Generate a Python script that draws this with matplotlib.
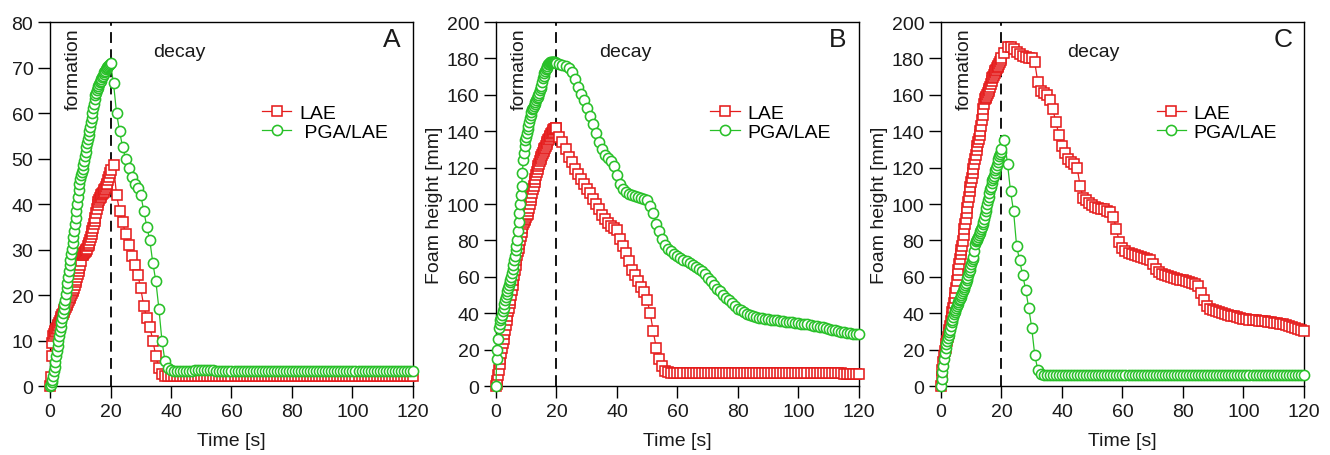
import numpy as np
import matplotlib
matplotlib.use("Agg")
import matplotlib.pyplot as plt

plt.rcParams['font.family'] = ['Liberation Sans', 'DejaVu Sans']

# time grid: fine sampling during formation, 1 s during decay
t_form = np.arange(0, 20.01, 0.25)
t_decay = np.arange(21, 121, 1)

# ---------------- panel A ----------------
a_lae_form = [
    0, 2, 6.5, 9.5,
    11, 11.4, 11.8, 12.1,
    12.5, 12.8, 13.1, 13.5,
    13.8, 14.2, 14.7, 15.1,
    15.5, 15.9, 16.3, 16.6,
    17, 17.4, 17.8, 18.1,
    18.5, 18.9, 19.3, 19.6,
    20, 20.4, 20.8, 21.1,
    21.5, 22.1, 22.8, 23.4,
    24, 24.6, 25.3, 25.9,
    26.5, 27.5, 28.7, 28.8,
    29, 29.2, 29.4, 29.6,
    29.8, 30.2, 30.7, 31.1,
    31.5, 32.1, 32.8, 33.4,
    34, 34.8, 35.5, 36.3,
    37, 38, 39, 39.8,
    40.5, 40.9, 41.3, 41.6,
    42, 42.2, 42.5, 42.7,
    43, 43.4, 43.7, 44.1,
    44.5, 45.2, 46, 46.8,
    47.5]
a_lae_decay = [
    48.5, 42, 38.5, 36, 33.5, 31, 28.5, 26.5, 24.5, 21.5,
    17.5, 15, 13, 10, 6.5, 4, 2.6, 2.3, 2.2, 2.2,
    2.2, 2.2, 2.1, 2.1, 2.2, 2.2, 2.2, 2.2, 2.1, 2.1,
    2.2, 2.2, 2.2, 2.1, 2.1, 2.2, 2.2, 2.2, 2.2, 2.2,
    2.2, 2.1, 2.1, 2.2, 2.2, 2.2, 2.2, 2.1, 2.1, 2.2,
    2.2, 2.2, 2.2, 2.2, 2.1, 2.1, 2.2, 2.2, 2.2, 2.2,
    2.2, 2.1, 2.1, 2.2, 2.2, 2.2, 2.2, 2.1, 2.1, 2.2,
    2.2, 2.2, 2.2, 2.2, 2.1, 2.1, 2.2, 2.2, 2.2, 2.2,
    2.2, 2.1, 2.1, 2.2, 2.2, 2.2, 2.2, 2.1, 2.1, 2.2,
    2.2, 2.2, 2.2, 2.2, 2.2, 2.2, 2.2, 2.2, 2.3, 2.3]
a_pga_form = [
    0, 0.3, 0.8, 1.4,
    2.2, 3.2, 4.2, 5.3,
    6.5, 7.6, 8.7, 9.9,
    11, 12, 13, 14,
    15, 16, 17, 18,
    19, 20.2, 21.5, 22.7,
    24, 25.2, 26.5, 27.7,
    29, 30.2, 31.5, 32.7,
    34, 35.5, 37, 38.5,
    40, 41.5, 43, 44.3,
    45.5, 46.3, 47, 47.8,
    48.5, 49.5, 50.5, 51.5,
    52.5, 53.4, 54.2, 55.1,
    56, 57, 58, 59,
    60, 61, 62, 63,
    64, 64.5, 65, 65.5,
    66, 66.4, 66.8, 67.1,
    67.5, 67.9, 68.2, 68.6,
    69, 69.3, 69.6, 69.9,
    70.2, 70.4, 70.6, 70.8,
    71]
a_pga_decay = [
    66.5, 60, 56, 52.5, 50, 48, 46, 44.5, 43.5, 42,
    38.5, 35, 32, 27, 23, 17, 10, 5.5, 4, 3.6,
    3.4, 3.3, 3.3, 3.3, 3.3, 3.4, 3.4, 3.5, 3.5, 3.5,
    3.6, 3.5, 3.5, 3.5, 3.4, 3.4, 3.3, 3.3, 3.3, 3.3,
    3.3, 3.3, 3.3, 3.4, 3.4, 3.3, 3.3, 3.3, 3.3, 3.3,
    3.3, 3.3, 3.4, 3.4, 3.3, 3.3, 3.3, 3.3, 3.3, 3.3,
    3.3, 3.3, 3.3, 3.3, 3.4, 3.4, 3.3, 3.3, 3.3, 3.3,
    3.3, 3.3, 3.3, 3.3, 3.3, 3.4, 3.4, 3.3, 3.3, 3.3,
    3.3, 3.3, 3.3, 3.3, 3.3, 3.3, 3.4, 3.4, 3.3, 3.3,
    3.3, 3.3, 3.3, 3.3, 3.3, 3.3, 3.3, 3.4, 3.4, 3.4]

# ---------------- panel B ----------------
b_lae_form = [
    0, 1, 3, 6,
    9, 12, 15, 18,
    21, 23.5, 26, 28.5,
    31, 33.5, 36, 38.5,
    41, 43, 45.5, 47.5,
    50, 52.5, 55.5, 58,
    61, 64, 66.5, 69,
    72, 74, 76, 78,
    80, 82.5, 84.5, 87,
    89, 90, 91, 92,
    93, 94, 94.5, 96,
    98, 100, 102, 104,
    106, 108, 110, 112,
    114, 116, 117.5, 119.5,
    121, 122.2, 123.5, 124.8,
    126, 127, 128, 129,
    130, 131, 132, 133,
    134, 135, 135.8, 136.7,
    137.5, 138.3, 139, 139.8,
    140.5, 141, 141.3, 141.7,
    142]
b_lae_decay = [
    137, 134, 130, 126, 123, 119.5, 116.5, 114, 111, 108.5,
    106, 103, 100, 97, 94, 91.5, 89.5, 88, 87, 85.5,
    81, 77, 73, 68.5, 64, 61, 57.5, 54.5, 51.5, 47,
    40, 30, 21, 15, 11, 8.5, 7.5, 7.2, 7.1, 7.0,
    7.0, 7.0, 6.9, 6.9, 7.0, 7.0, 7.0, 7.0, 6.9, 6.9,
    7.0, 7.0, 7.0, 7.1, 7.1, 7.0, 7.0, 7.0, 7.0, 7.0,
    7.1, 7.1, 7.2, 7.2, 7.1, 7.1, 7.0, 7.0, 7.0, 7.0,
    6.9, 6.9, 7.0, 7.0, 7.0, 7.0, 6.9, 6.9, 6.9, 6.9,
    6.9, 6.9, 7.0, 7.0, 6.9, 6.9, 6.9, 6.9, 6.9, 6.9,
    6.9, 6.9, 6.9, 6.9, 6.8, 6.8, 6.8, 6.8, 6.8, 6.8]
b_pga_form = [
    0, 15, 20, 26,
    32, 34, 36, 37.5,
    39, 41, 43, 45,
    47, 49, 50.5, 52,
    54, 55.5, 57, 58.5,
    60, 62, 64.5, 66.5,
    69, 71.5, 74.5, 77,
    80, 85, 90, 95,
    100, 105, 110, 117,
    124, 128, 132, 135,
    137, 139, 141, 143,
    145, 147, 149, 150.5,
    152, 153, 154, 155,
    156, 157, 158, 159,
    160, 161, 162.5, 163.5,
    165, 167, 169, 170.5,
    172, 173, 174, 175,
    176, 176.7, 177.2, 177.6,
    178, 178.2, 178.3, 178.3,
    178.2, 178, 177.9, 177.7,
    177.5]
b_pga_decay = [
    177, 176.5, 176, 175, 172.5, 168.5, 164.5, 160.5, 157, 153,
    148.5, 144, 139, 134, 130, 127, 125.5, 123.5, 121, 116,
    111, 108, 106.5, 105.5, 105, 104.5, 104, 103.5, 103, 102,
    99, 95, 89, 85, 81, 77.5, 75.5, 74, 72.5, 71.5,
    70.5, 69.5, 68.5, 67.5, 66.5, 65.5, 64.5, 63, 61.5, 59.5,
    57.5, 55.5, 53.5, 52, 50, 48.5, 47, 45.5, 44, 42.5,
    41.5, 40.5, 39.5, 39, 38.5, 38, 37.5, 37.2, 37, 36.8,
    36.5, 36.2, 36, 35.8, 35.6, 35.4, 35.2, 35, 34.8, 34.6,
    34.3, 34, 33.8, 33.5, 33.2, 33, 32.6, 32.2, 31.8, 31.4,
    31, 30.6, 30.2, 29.9, 29.6, 29.3, 29, 28.8, 28.6, 28.4]

# ---------------- panel C ----------------
c_lae_form = [
    0, 5, 9, 13,
    16.5, 19, 21, 23,
    25, 27, 29, 31,
    33, 35.5, 38, 40.5,
    43, 45.5, 48.5, 51,
    54, 57.5, 61, 64,
    67, 70, 72.5, 75,
    77, 79.5, 83, 86,
    89, 92, 95, 98,
    101, 104, 107, 109.5,
    112, 114.5, 117, 119.5,
    122, 124.5, 127, 129.5,
    132, 134, 136, 138,
    140, 143, 146, 149,
    152, 155, 157.5, 158.5,
    159, 160, 161, 162,
    163, 164.5, 166, 167.5,
    169, 170, 171, 172,
    173, 173.8, 174.5, 175.2,
    176, 177, 178, 179,
    180]
c_lae_decay = [
    183, 186.5, 186.5, 185, 183.5, 182.5, 181.5, 181, 180.5, 180,
    178, 167, 162, 161, 160, 157, 152, 145, 138, 132,
    128, 125, 123, 122, 120, 110, 103.5, 102, 100.5, 99.5,
    98.5, 98, 97.5, 97, 96, 95.5, 93, 86, 79, 76,
    74, 73, 72.5, 72, 71.5, 71, 70.5, 70, 69, 67,
    64.5, 62.5, 61.5, 61, 60.5, 60, 59.5, 59, 58.5, 58,
    57.5, 57, 56.5, 56, 55, 51, 47, 44, 42.5, 41.5,
    41, 40.5, 40, 39.5, 39, 38.7, 38.4, 38, 37.5, 37,
    36.8, 36.5, 36.2, 36, 35.8, 35.7, 35.5, 35.2, 35, 34.7,
    34.4, 34.1, 33.8, 33.3, 32.8, 32.3, 31.8, 31.2, 30.7, 30.3]
c_pga_form = [
    0, 4, 7.5, 11,
    15, 18, 21, 23,
    25, 26.5, 28, 29.5,
    31, 33, 35, 36.5,
    38, 39.3, 40.5, 41.8,
    43, 44, 45, 46,
    47, 48, 49, 50,
    51, 52, 53.2, 54.4,
    55.5, 56.8, 58.2, 59.6,
    61, 62.5, 64, 65.5,
    67, 68.5, 70, 71,
    74, 78, 79.5, 80.2,
    81, 82, 83, 84,
    85, 86.2, 87.5, 88.8,
    90, 92, 94, 96,
    98, 100, 102, 104,
    106, 108, 109.5, 111.5,
    113, 114.5, 115.5, 117,
    118.5, 120, 121.5, 123.3,
    125, 126.3, 127.5, 128.8,
    130]
c_pga_decay = [
    135, 122, 107, 96, 77, 69, 61, 53, 43, 32,
    17, 9, 6.8, 6.2, 6.0, 6.0, 6.0, 6.0, 6.0, 6.0,
    6.0, 6.0, 6.0, 6.0, 6.0, 6.0, 6.0, 6.0, 6.0, 6.0,
    6.0, 6.0, 6.0, 6.0, 6.0, 6.0, 6.0, 6.0, 6.0, 6.0,
    6.0, 6.0, 6.0, 6.0, 6.0, 6.0, 6.0, 6.0, 6.0, 6.0,
    6.0, 6.0, 6.0, 6.0, 6.0, 6.0, 6.0, 6.0, 6.0, 6.0,
    6.0, 6.0, 6.0, 6.0, 6.0, 6.0, 6.0, 6.0, 6.0, 6.0,
    6.0, 6.0, 6.0, 6.0, 6.0, 6.0, 6.0, 6.0, 6.0, 6.0,
    6.0, 6.0, 6.0, 6.0, 6.0, 6.0, 6.0, 6.0, 6.0, 6.0,
    6.0, 6.0, 6.0, 6.0, 6.0, 6.0, 6.0, 6.1, 6.1, 6.2]

RED = '#e51d1d'
GREEN = '#28c028'
TXT = '#1a1a1a'

time = np.concatenate([t_form, t_decay])

fig = plt.figure(figsize=(13.3, 4.56), dpi=100)

panels = [
    # left, letter, lae form/decay, pga form/decay, ymax, ystep, pga label, decay x, ylabel, legend x
    (0.0376, 'A', a_lae_form, a_lae_decay, a_pga_form, a_pga_decay, 80, 10, ' PGA/LAE', 0.355, False, 0.584),
    (0.3729, 'B', b_lae_form, b_lae_decay, b_pga_form, b_pga_decay, 200, 20, 'PGA/LAE', 0.357, True, 0.591),
    (0.7075, 'C', c_lae_form, c_lae_decay, c_pga_form, c_pga_decay, 200, 20, 'PGA/LAE', 0.42, True, 0.594),
]

for left, letter, lf, ld, pf, pd_, ymax, ystep, pga_lab, decay_x, ylab, leg_x in panels:
    ax = fig.add_axes([left, 0.1513, 0.2729, 0.7982])
    lae = np.concatenate([lf, ld])
    pga = np.concatenate([pf, pd_])

    ax.axvline(20, color='black', lw=1.3, dashes=(6, 3.5), zorder=1)

    ax.plot(time, lae, color=RED, lw=0.9, marker='s', ms=7.3, mfc='white',
            mec=RED, mew=1.15, clip_on=False, zorder=3, label='LAE')
    ax.plot(time, pga, color=GREEN, lw=0.9, marker='o', ms=7.3, mfc='white',
            mec=GREEN, mew=1.15, clip_on=False, zorder=4, label=pga_lab)

    ax.set_xlim(0, 120)
    ax.set_ylim(0, ymax)
    ax.set_xticks(np.arange(0, 121, 20))
    ax.set_yticks(np.arange(0, ymax + 1, ystep))
    ax.tick_params(direction='out', length=8.5, width=1.0, pad=3.5,
                   labelsize=14, colors='black', labelcolor=TXT)
    for sp in ax.spines.values():
        sp.set_linewidth(1.0)

    ax.set_xlabel('Time [s]', fontsize=14, color=TXT)
    ax.xaxis.set_label_coords(0.5, -0.125)
    if ylab:
        ax.set_ylabel('Foam height [mm]', fontsize=14, color=TXT)
        ax.yaxis.set_label_coords(-0.145, 0.5)

    ax.text(7.7, 0.986, 'formation', transform=ax.get_xaxis_transform(),
            rotation=90, ha='center', va='top', fontsize=14, color=TXT)
    ax.text(decay_x, 0.92, 'decay', transform=ax.transAxes,
            ha='center', va='center', fontsize=14, color=TXT)
    ax.text(0.942, 0.986, letter, transform=ax.transAxes,
            ha='center', va='top', fontsize=19, color=TXT)

    ax.legend(loc='upper left', bbox_to_anchor=(leg_x, 0.775), frameon=False,
              fontsize=14, handlelength=1.5, handletextpad=0.4,
              labelspacing=0.1, borderpad=0, borderaxespad=0)

fig.savefig('out.png', dpi=100)
